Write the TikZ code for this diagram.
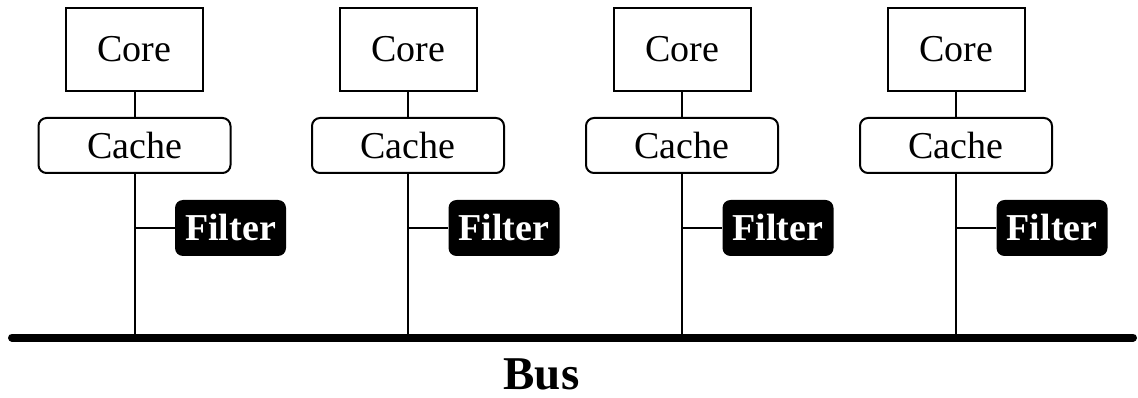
\documentclass[tikz,border=0pt]{standalone}
\usepackage{fontspec}
\setmainfont{Liberation Serif}
\begin{document}
\begin{tikzpicture}[x=1pt,y=-1pt,
  corebox/.style={draw, line width=2pt, minimum width=137pt, minimum height=83pt,
    inner sep=0pt, font=\fontsize{38}{40}\selectfont},
  cachebox/.style={draw, line width=2pt, rounded corners=8pt, minimum width=192pt,
    minimum height=55pt, inner sep=0pt, font=\fontsize{38}{40}\selectfont},
  filterbox/.style={fill=black, text=white, rounded corners=8pt, minimum width=111pt,
    minimum height=56pt, inner sep=0pt, font=\fontsize{38}{40}\selectfont\bfseries},
  wire/.style={line width=2pt},
  busline/.style={line width=8pt, line cap=round}]
  \useasboundingbox (0,0) rectangle (1138,398);
  % the shared bus
  \coordinate (busL) at (12,337.5);
  \coordinate (busR) at (1133,337.5);
  \draw[busline] (busL) -- (busR);
  \node[font=\fontsize{47}{49}\selectfont\bfseries, anchor=base, inner sep=0pt] (bus) at (541.5,389) {Bus};
  % one core / cache / filter column per processor
  \foreach \i/\x in {1/134.5, 2/408, 3/682, 4/956} {
    \node[corebox] (core\i) at (\x,49.5) {Core};
    \node[cachebox] (cache\i) at (\x,145.5) {Cache};
    \node[filterbox] (filter\i) at (\x+96,228) {Filter};
    \coordinate (tap\i) at (\x,337.5);
    \draw[wire] (core\i.south) -- (cache\i.north);
    \draw[wire] (cache\i.south) -- (tap\i);
    \draw[wire] (cache\i.south |- filter\i.west) -- (filter\i.west);
  }
\end{tikzpicture}
\end{document}
